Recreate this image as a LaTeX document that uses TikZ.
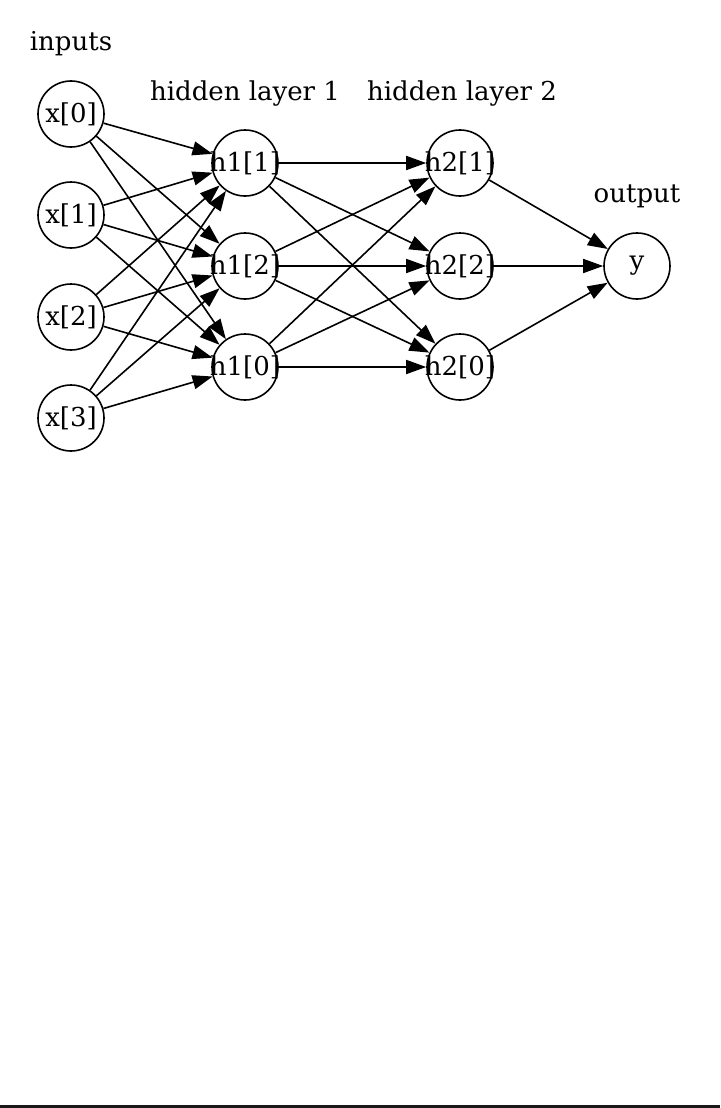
\documentclass[tikz,border=0pt]{standalone}
\usepackage{fontspec}
\setmainfont{DejaVu Serif}
\usetikzlibrary{arrows.meta}
\newcommand{\celltext}[1]{\makebox[0pt]{#1}}

\begin{document}
\begin{tikzpicture}[x=1pt,y=-1pt,
  unit/.style={draw,circle,line width=1.6pt,minimum size=66pt,inner sep=0pt,font=\fontsize{26}{30}\selectfont},
  title/.style={font=\fontsize{26}{30}\selectfont},
  link/.style={line width=1.6pt,-{Triangle[length=20pt,width=14pt]}}]
      \useasboundingbox (0,0) rectangle (720,1108);
      \fill[black!90] (0,1105) rectangle (720,1108);
      \node[title] (inputs) at (71,44) {inputs}; \node[title] (hidden1) at (245,94) {hidden layer 1}; \node[title] (hidden2) at (462,94) {hidden layer 2}; \node[title] (output) at (637,196) {output};
      \node[unit] (x0) at (71,114) {\celltext{x[0]}}; \node[unit] (x1) at (71,215) {\celltext{x[1]}}; \node[unit] (x2) at (71,317) {\celltext{x[2]}}; \node[unit] (x3) at (71,418) {\celltext{x[3]}};
      \node[unit] (ha1) at (245,163) {\celltext{h1[1]}}; \node[unit] (ha2) at (245,266) {\celltext{h1[2]}}; \node[unit] (ha0) at (245,367) {\celltext{h1[0]}};
      \node[unit] (hb1) at (460,163) {\celltext{h2[1]}}; \node[unit] (hb2) at (460,266) {\celltext{h2[2]}}; \node[unit] (hb0) at (460,367) {\celltext{h2[0]}};
      \node[unit] (y) at (637,266) {\celltext{y}};

      \draw[link] (x0) -- (ha1); \draw[link] (x0) -- (ha2); \draw[link] (x0) -- (ha0); \draw[link] (x1) -- (ha1); \draw[link] (x1) -- (ha2); \draw[link] (x1) -- (ha0);
      \draw[link] (x2) -- (ha1); \draw[link] (x2) -- (ha2); \draw[link] (x2) -- (ha0); \draw[link] (x3) -- (ha1); \draw[link] (x3) -- (ha2); \draw[link] (x3) -- (ha0);
      \draw[link] (ha1) -- (hb1); \draw[link] (ha1) -- (hb2); \draw[link] (ha1) -- (hb0); \draw[link] (ha2) -- (hb1); \draw[link] (ha2) -- (hb2); \draw[link] (ha2) -- (hb0);
      \draw[link] (ha0) -- (hb1); \draw[link] (ha0) -- (hb2); \draw[link] (ha0) -- (hb0);
      \draw[link] (hb1) -- (y); \draw[link] (hb2) -- (y); \draw[link] (hb0) -- (y);
    \end{tikzpicture}
\end{document}
